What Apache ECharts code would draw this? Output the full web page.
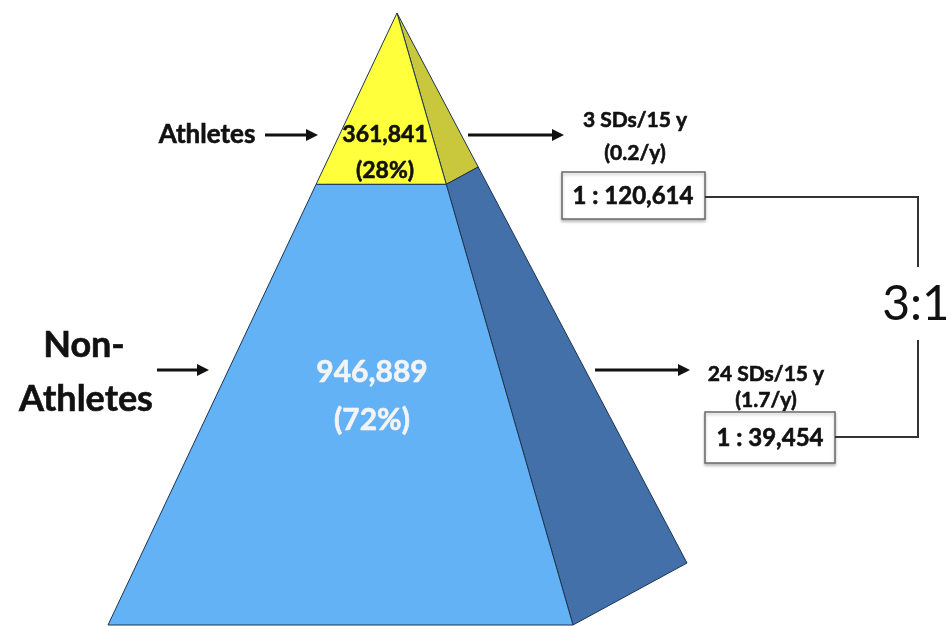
<!DOCTYPE html>
<html>
<head>
<meta charset="utf-8">
<script src="https://cdn.jsdelivr.net/npm/echarts@6/dist/echarts.min.js"></script>
<style>
html,body{margin:0;padding:0;background:#fff;}
#chart{width:946px;height:627px;}
</style>
</head>
<body>
<div id="chart"></div>
<script>
// ---- data ----
const groups = ['Athletes', 'Non-Athletes'];
const counts = [361841, 946889];
const shares = [28, 72];              // percent of population, apex to base
const events = ['3 SDs/15 y', '24 SDs/15 y'];
const rates = ['(0.2/y)', '(1.7/y)'];
const risks = ['1 : 120,614', '1 : 39,454'];
const ratioLabel = '3:1';

// ---- layout (pixel space of a hidden cartesian grid) ----
const W = 946, H = 627;
const geo = { apex: [397, 13], left: [108, 625], right: [573, 625], back: [687, 563] };
const frontColors = ['#ffff3c', '#64b2f6'];
const sideColors = ['#c9c83c', '#4370a8'];
const textColors = ['#111111', '#f4f4f4'];
const labelPos = [
  { x: 385, y1: 135, y2: 171, size: 23 },
  { x: 372, y1: 372, y2: 420, size: 30 }
];

// cumulative segments
const segData = [];
let acc = 0;
shares.forEach((s, i) => { segData.push([acc, acc + s, i]); acc += s; });

function lerp(a, b, t) { return [a[0] + (b[0] - a[0]) * t, a[1] + (b[1] - a[1]) * t]; }

function renderItem(params, api) {
  const t0 = api.value(0) / 100, t1 = api.value(1) / 100, i = api.value(2);
  const c = p => api.coord(p);
  const A = geo.apex;
  const front = [lerp(A, geo.left, t0), lerp(A, geo.right, t0), lerp(A, geo.right, t1), lerp(A, geo.left, t1)].map(c);
  const side = [lerp(A, geo.right, t0), lerp(A, geo.back, t0), lerp(A, geo.back, t1), lerp(A, geo.right, t1)].map(c);
  const lp = labelPos[i];
  const font = 'bold ' + lp.size + 'px Lato, "Open Sans", sans-serif';
  const p1 = c([lp.x, lp.y1]), p2 = c([lp.x, lp.y2]);
  return {
    type: 'group',
    children: [
      { type: 'polygon', shape: { points: side }, style: { fill: sideColors[i], stroke: '#1d3550', lineWidth: 1 } },
      { type: 'polygon', shape: { points: front }, style: { fill: frontColors[i], stroke: '#1d3550', lineWidth: 1 } },
      { type: 'text', style: { text: counts[i].toLocaleString('en-US'), x: p1[0], y: p1[1], font: font, fill: textColors[i], stroke: textColors[i], lineWidth: 0.6, textAlign: 'center', verticalAlign: 'middle' } },
      { type: 'text', style: { text: '(' + shares[i] + '%)', x: p2[0], y: p2[1], font: font, fill: textColors[i], stroke: textColors[i], lineWidth: 0.6, textAlign: 'center', verticalAlign: 'middle' } }
    ]
  };
}

function arrow(x1, x2, y) {
  return [
    { type: 'line', shape: { x1: x1, y1: y, x2: x2 - 9, y2: y }, style: { stroke: '#111', lineWidth: 3 } },
    { type: 'polygon', shape: { points: [[x2 - 12, y - 6], [x2, y], [x2 - 12, y + 6]] }, style: { fill: '#111' } }
  ];
}
function txt(t, x, y, font, fill, sw) {
  const f = fill || '#111';
  return { type: 'text', style: { text: t, x: x, y: y, font: font, fill: f, stroke: f, lineWidth: sw === undefined ? 0.6 : sw, textAlign: 'center', verticalAlign: 'middle' } };
}
const boldF = s => 'bold ' + s + 'px Lato, "Open Sans", sans-serif';

const graphics = [].concat(
  arrow(265, 318, 135),
  arrow(468, 564, 135),
  arrow(157, 209, 370),
  arrow(595, 690, 370),
  [
    txt(groups[0], 207, 135, boldF(26)),
    txt('Non-', 84, 345, boldF(36)),
    txt('Athletes', 86, 399, boldF(36)),
    txt(events[0], 635, 120, boldF(21)),
    txt(rates[0], 635, 153, boldF(21)),
    txt(events[1], 766, 374, boldF(21)),
    txt(rates[1], 766, 400, boldF(21)),
    { type: 'rect', shape: { x: 562, y: 172, width: 143, height: 47 }, style: { fill: '#fff', stroke: '#6a6a6a', lineWidth: 1.5, shadowBlur: 3, shadowOffsetY: 2, shadowColor: 'rgba(0,0,0,0.25)' } },
    txt(risks[0], 633, 196, boldF(24)),
    { type: 'rect', shape: { x: 705, y: 412, width: 130, height: 51 }, style: { fill: '#fff', stroke: '#6a6a6a', lineWidth: 1.5, shadowBlur: 3, shadowOffsetY: 2, shadowColor: 'rgba(0,0,0,0.25)' } },
    txt(risks[1], 770, 438, boldF(24)),
    { type: 'polyline', shape: { points: [[705, 197], [918, 197], [918, 267]] }, style: { stroke: '#333', lineWidth: 2, fill: null } },
    { type: 'polyline', shape: { points: [[918, 340], [918, 437], [835, 437]] }, style: { stroke: '#333', lineWidth: 2, fill: null } },
    txt(ratioLabel, 916, 305, '48px Lato, "Open Sans", sans-serif', '#111', 0)
  ]
);

const chart = echarts.init(document.getElementById('chart'), null, { renderer: 'canvas' });
chart.setOption({
  animation: false,
  backgroundColor: '#ffffff',
  grid: { left: 0, right: 0, top: 0, bottom: 0 },
  xAxis: { type: 'value', min: 0, max: W, show: false },
  yAxis: { type: 'value', min: 0, max: H, inverse: true, show: false },
  series: [{
    type: 'custom',
    coordinateSystem: 'cartesian2d',
    renderItem: renderItem,
    clip: false,
    encode: { x: 0, y: 1 },
    data: segData
  }],
  graphic: { elements: graphics }
});
</script>
</body>
</html>
